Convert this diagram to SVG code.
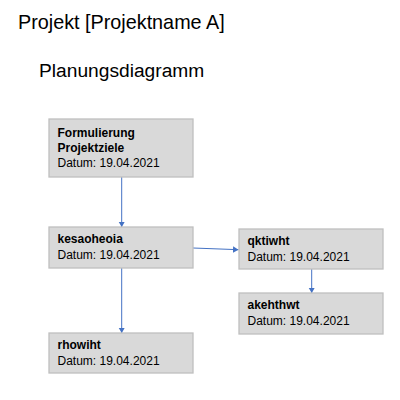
<svg xmlns="http://www.w3.org/2000/svg" width="400" height="400" viewBox="0 0 400 400">
<style>
.title{font-family:"Liberation Sans",Arial,sans-serif;font-size:19.5px;fill:#000}
.box{fill:#d9d9d9;stroke:#bfbfbf;stroke-width:1.3}
.t{font-family:"Liberation Sans",Arial,sans-serif;font-size:12px;fill:#000}
.b{font-weight:bold}
.c{stroke:#4472c4;stroke-width:1;fill:none;marker-end:url(#ah)}
</style>
<defs>
<marker id="ah" markerUnits="userSpaceOnUse" markerWidth="7" markerHeight="7" refX="5.5" refY="3.25" orient="auto">
<path d="M0,0 L5.5,3.25 L0,6.5 Z" fill="#4472c4"/>
</marker>
</defs>
<rect width="400" height="400" fill="#fff"/>
<text class="title" x="18" y="29" style="font-size:19.8px">Projekt [Projektname A]</text>
<text class="title" x="39" y="77" style="font-size:19.2px">Planungsdiagramm</text>
<g id="connectors">
<line class="c" x1="121.7" y1="177" x2="121.7" y2="227"/>
<line class="c" x1="193" y1="248" x2="238.5" y2="249.7"/>
<line class="c" x1="121.7" y1="268" x2="121.7" y2="333"/>
<line class="c" x1="311.7" y1="269" x2="311.7" y2="293"/>
</g>
<g id="n1">
<rect class="box" x="49" y="119" width="144" height="58"/>
<text class="t b" x="57.5" y="136.7">Formulierung</text>
<text class="t b" x="57.5" y="151.7">Projektziele</text>
<text class="t" x="57.5" y="166.7">Datum: 19.04.2021</text>
</g>
<g id="n2">
<rect class="box" x="49" y="227" width="144" height="41"/>
<text class="t b" x="57.5" y="243.3">kesaoheoia</text>
<text class="t" x="57.5" y="258.7">Datum: 19.04.2021</text>
</g>
<g id="n3">
<rect class="box" x="239" y="229" width="144" height="40"/>
<text class="t b" x="247.5" y="245">qktiwht</text>
<text class="t" x="247.5" y="260.5">Datum: 19.04.2021</text>
</g>
<g id="n4">
<rect class="box" x="239" y="293" width="144" height="41"/>
<text class="t b" x="247.5" y="309.3">akehthwt</text>
<text class="t" x="247.5" y="324.5">Datum: 19.04.2021</text>
</g>
<g id="n5">
<rect class="box" x="49" y="333" width="144" height="40"/>
<text class="t b" x="57.5" y="349.3">rhowiht</text>
<text class="t" x="57.5" y="364.5">Datum: 19.04.2021</text>
</g>
</svg>
